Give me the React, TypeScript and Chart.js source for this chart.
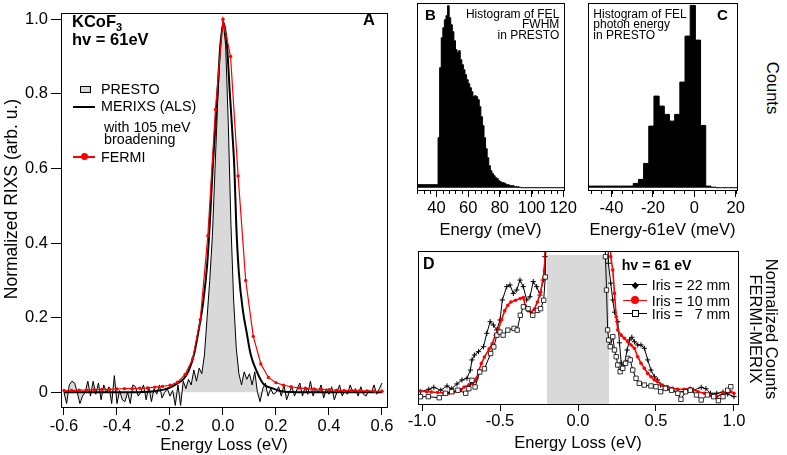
import React, { useEffect, useRef } from "react";
import { Chart, registerables } from "chart.js";

Chart.register(...registerables);

const FONT = '"Liberation Sans", Arial, Helvetica, sans-serif';
const RED = "#ff0000";
const GREY = "#d9d9d9";

// ---------------- Panel A : RIXS spectra ----------------
const A_X_TICKS = [-0.6, -0.4, -0.2, 0, 0.2, 0.4, 0.6];
const A_Y_TICKS = [0, 0.2, 0.4, 0.6, 0.8, 1.0];

const PRESTO_X = [
  -0.6, -0.59, -0.58, -0.57, -0.56, -0.55, -0.54, -0.53, -0.52, -0.51, -0.5, -0.49, -0.48, -0.47, -0.46, -0.45, -0.44, -0.43, -0.42, -0.41,
  -0.4, -0.39, -0.38, -0.37, -0.36, -0.35, -0.34, -0.33, -0.32, -0.31, -0.3, -0.29, -0.28, -0.27, -0.26, -0.25, -0.24, -0.23, -0.22, -0.21,
  -0.2, -0.19, -0.18, -0.17, -0.16, -0.15, -0.14, -0.13, -0.12, -0.11, -0.1, -0.09, -0.08, -0.07, -0.06, -0.05, -0.04, -0.03, -0.02, -0.01,
  0, 0.01, 0.02, 0.03, 0.04, 0.05, 0.06, 0.07, 0.08, 0.09, 0.1, 0.11, 0.12, 0.13, 0.14, 0.15, 0.16, 0.17, 0.18, 0.19,
  0.2, 0.21, 0.22, 0.23, 0.24, 0.25, 0.26, 0.27, 0.28, 0.29, 0.3, 0.31, 0.32, 0.33, 0.34, 0.35, 0.36, 0.37, 0.38, 0.39,
  0.4, 0.41, 0.42, 0.43, 0.44, 0.45, 0.46, 0.47, 0.48, 0.49, 0.5, 0.51, 0.52, 0.53, 0.54, 0.55, 0.56, 0.57, 0.58, 0.59, 0.6,
];
const PRESTO_Y = [
  0.0, -0.03, 0.02, 0.03, 0.025, 0.0, -0.03, -0.01, 0.0, 0.03, -0.01, 0.03, -0.005, 0.025, -0.02, 0.02, 0.0, 0.015, -0.03, 0.045,
  -0.03, 0.005, -0.02, -0.025, 0.0, -0.03, 0.02, 0.015, -0.01, 0.0, 0.02, -0.02, 0.015, -0.025, 0.01, -0.005, 0.02, -0.015, 0.0, 0.01,
  -0.01, 0.005, -0.035, 0.02, -0.035, 0.03, 0.01, 0.035, 0.02, 0.06, 0.03, 0.065, 0.05, 0.1, 0.2, 0.3, 0.42, 0.6, 0.78, 0.93,
  1.0, 0.93, 0.72, 0.45, 0.25, 0.12, 0.05, 0.02, 0.055, 0.035, 0.05, 0.02, 0.055, 0.0, -0.025, 0.01, 0.025, -0.01, 0.01, -0.005,
  0.0, 0.015, -0.01, 0.02, -0.02, 0.0, 0.015, -0.01, 0.01, 0.025, -0.01, 0.015, -0.005, 0.03, -0.01, 0.01, 0.0, 0.02, -0.015, 0.01,
  -0.005, 0.015, -0.02, 0.0, 0.02, -0.01, 0.005, -0.005, 0.02, 0.0, 0.01, -0.01, 0.015, -0.005, -0.01, 0.005, 0.0, 0.02, -0.005, 0.01, 0.025,
];

const MERIXS_X = [
  -0.6, -0.4, -0.3, -0.26, -0.22, -0.2, -0.175, -0.15, -0.13, -0.11, -0.093, -0.075, -0.06, -0.05, -0.039, -0.03, -0.021, -0.01,
  0.003, 0.015, 0.026, 0.035, 0.043, 0.05, 0.06, 0.075, 0.089, 0.105, 0.127, 0.152, 0.19, 0.22, 0.26, 0.3, 0.4, 0.6,
];
const MERIXS_Y = [
  0, 0, 0.001, 0.003, 0.008, 0.013, 0.023, 0.035, 0.057, 0.1, 0.162, 0.24, 0.34, 0.45, 0.6, 0.7, 0.8, 0.93,
  0.99, 0.93, 0.8, 0.7, 0.6, 0.45, 0.32, 0.22, 0.162, 0.1, 0.057, 0.023, 0.01, 0.003, 0.001, 0, 0, 0,
];

const FERMI_X = [
  -0.6, -0.5714, -0.5429, -0.5143, -0.4857, -0.4571, -0.4286, -0.4, -0.3714, -0.3429, -0.3143, -0.2857, -0.2571, -0.2286, -0.2,
  -0.1714, -0.1429, -0.1143, -0.0857, -0.0571, -0.0286, 0, 0.0286, 0.0571, 0.0857, 0.1143, 0.1429, 0.1714, 0.2, 0.2286,
  0.2571, 0.2857, 0.3143, 0.3429, 0.3714, 0.4, 0.4286, 0.4571, 0.4857, 0.5143, 0.5429, 0.5714, 0.6,
];
const FERMI_Y = [
  0.005, 0.005, 0.006, 0.006, 0.007, 0.008, 0.008, 0.009, 0.01, 0.01, 0.011, 0.012, 0.014, 0.016, 0.019,
  0.027, 0.048, 0.09, 0.195, 0.42, 0.758, 1.0, 0.9, 0.58, 0.3, 0.15, 0.076, 0.04, 0.026, 0.019,
  0.015, 0.012, 0.01, 0.009, 0.008, 0.007, 0.006, 0.005, 0.005, 0.004, 0.004, 0.003, 0.003,
];

// ---------------- Panel B : FEL FWHM histogram ----------------
const B_X_TICKS = [40, 60, 80, 100, 120];
const FWHM_BIN_WIDTH = 1;
const FWHM_BIN_EDGES = [
  41, 42, 43, 44, 45, 46, 47, 48, 49, 50, 51, 52, 53, 54, 55, 56, 57, 58, 59, 60, 61, 62, 63, 64, 65, 66, 67,
  68, 69, 70, 71, 72, 73, 74, 75, 76, 77, 78, 79, 80, 81, 82, 83, 84, 85, 86, 87, 88, 89, 90, 91, 92, 93,
];
const FWHM_COUNTS = [
  3, 50, 120, 150, 160, 168, 172, 182, 170, 163, 156, 147, 138, 135, 137, 128, 123, 118, 113, 108, 104, 100, 96, 91, 92, 91, 88,
  81, 71, 62, 50, 39, 30, 22, 17, 14, 12, 10, 9, 7, 6, 5, 5, 4, 3, 3, 2, 2, 2, 1, 1, 1, 0.5,
];

// ---------------- Panel C : FEL photon energy histogram ----------------
const C_X_TICKS = [-40, -20, 0, 20];
const PHOTON_BIN_WIDTH = 2.5;
const PHOTON_BIN_EDGES = [-29.5, -27, -24.5, -22, -19.5, -17, -14.5, -12, -9.5, -7, -4.5, -2, 0.5, 3, 5.5, 8, 10.5];
const PHOTON_COUNTS = [1.6, 4.3, 8.3, 24.3, 61.6, 91.6, 81.6, 73.3, 66.6, 73.3, 105.6, 151.6, 182.3, 147.6, 62.3, 1.6, 0.5];

// ---------------- Panel D : FERMI - MERIX difference ----------------
const D_X_TICKS = [-1, -0.5, 0, 0.5, 1];
const GREY_BAND = [-0.2, 0.2];
const GREY_TOP = 0.974;

const IRIS22_X = [
  -1.01, -0.957, -0.925, -0.88, -0.84, -0.81, -0.776, -0.744, -0.712, -0.69, -0.68, -0.664, -0.638, -0.606, -0.585, -0.563, -0.542,
  -0.521, -0.5, -0.485, -0.457, -0.436, -0.415, -0.393, -0.372, -0.351, -0.329, -0.308, -0.287, -0.265, -0.244, -0.223, -0.212, -0.2,
  0.19, 0.195, 0.21, 0.223, 0.234, 0.255, 0.266, 0.277, 0.287, 0.298, 0.315, 0.33, 0.345, 0.362, 0.383, 0.404, 0.426, 0.447,
  0.468, 0.49, 0.51, 0.53, 0.56, 0.59, 0.64, 0.68, 0.71, 0.74, 0.79, 0.82, 0.85, 0.89, 0.93, 0.96, 1.0,
];
const IRIS22_Y = [
  0.08, 0.096, 0.109, 0.09, 0.118, 0.1, 0.131, 0.157, 0.168, 0.222, 0.288, 0.32, 0.342, 0.375, 0.462, 0.538, 0.516,
  0.484, 0.549, 0.68, 0.767, 0.778, 0.723, 0.745, 0.81, 0.767, 0.68, 0.701, 0.8, 0.767, 0.712, 0.81, 0.963, 1.3,
  1.3, 0.92, 0.79, 0.68, 0.6, 0.538, 0.4, 0.268, 0.235, 0.26, 0.353, 0.418, 0.436, 0.407, 0.386, 0.386, 0.364, 0.288,
  0.222, 0.178, 0.157, 0.124, 0.102, 0.092, 0.08, 0.08, 0.09, 0.09, 0.109, 0.1, 0.07, 0.07, 0.078, 0.065, 0.048,
];

const IRIS10_X = [
  -1.01, -0.97, -0.94, -0.9, -0.86, -0.83, -0.8, -0.77, -0.75, -0.73, -0.7, -0.68, -0.66, -0.65, -0.635, -0.62, -0.6,
  -0.57, -0.55, -0.53, -0.51, -0.49, -0.47, -0.45, -0.43, -0.4, -0.37, -0.35, -0.34, -0.32, -0.3, -0.28, -0.26, -0.24, -0.215, -0.2,
  0.2, 0.21, 0.223, 0.234, 0.245, 0.255, 0.277, 0.298, 0.319, 0.34, 0.362, 0.383, 0.404, 0.426, 0.447, 0.468, 0.49, 0.51,
  0.54, 0.575, 0.606, 0.64, 0.68, 0.72, 0.77, 0.81, 0.85, 0.89, 0.93, 0.98, 1.0,
];
const IRIS10_Y = [
  0.085, 0.08, 0.078, 0.075, 0.072, 0.07, 0.075, 0.085, 0.095, 0.111, 0.125, 0.133, 0.15, 0.168, 0.22, 0.264, 0.307,
  0.36, 0.393, 0.45, 0.49, 0.55, 0.61, 0.645, 0.667, 0.678, 0.69, 0.695, 0.645, 0.61, 0.6, 0.62, 0.667, 0.73, 0.87, 1.3,
  1.3, 0.963, 0.876, 0.723, 0.57, 0.484, 0.45, 0.429, 0.407, 0.386, 0.364, 0.309, 0.266, 0.233, 0.2, 0.178, 0.157, 0.146,
  0.124, 0.113, 0.102, 0.096, 0.096, 0.102, 0.08, 0.07, 0.059, 0.048, 0.07, 0.08, 0.07,
];

const IRIS7_X = [
  -1.01, -0.96, -0.89, -0.85, -0.81, -0.77, -0.72, -0.7, -0.68, -0.66, -0.63, -0.6, -0.56, -0.54, -0.52, -0.5, -0.48,
  -0.45, -0.41, -0.39, -0.37, -0.35, -0.32, -0.29, -0.26, -0.24, -0.22, -0.21, -0.2,
  0.17, 0.176, 0.183, 0.19, 0.197, 0.207, 0.223, 0.234, 0.245, 0.255, 0.27, 0.287, 0.305, 0.32, 0.335, 0.351, 0.372, 0.393,
  0.425, 0.468, 0.5, 0.53, 0.56, 0.6, 0.64, 0.66, 0.69, 0.72, 0.76, 0.79, 0.83, 0.87, 0.9, 0.93, 0.96, 0.98,
];
const IRIS7_Y = [
  0.048, 0.048, 0.041, 0.07, 0.08, 0.09, 0.07, 0.1, 0.155, 0.111, 0.209, 0.23, 0.33, 0.373, 0.45, 0.47, 0.45,
  0.483, 0.494, 0.483, 0.58, 0.635, 0.623, 0.58, 0.612, 0.623, 0.678, 0.83, 1.3,
  1.3, 0.963, 0.745, 0.484, 0.418, 0.375, 0.44, 0.353, 0.309, 0.255, 0.211, 0.233, 0.266, 0.298, 0.288, 0.222, 0.168, 0.135,
  0.124, 0.118, 0.113, 0.08, 0.102, 0.09, 0.07, 0.031, 0.08, 0.09, 0.059, 0.026, 0.059, 0.048, 0.022, 0.048, 0.09, 0.113,
];

// ---------------- helpers ----------------
const pts = (xs: number[], ys: number[]) => xs.map((x, i) => ({ x, y: ys[i] }));

const histPts = (edges: number[], counts: number[], width: number, lo: number, hi: number) => {
  const p: { x: number; y: number }[] = [{ x: lo, y: 0 }];
  edges.forEach((e, i) => p.push({ x: e, y: counts[i] }));
  p.push({ x: edges[edges.length - 1] + width, y: 0 });
  p.push({ x: hi, y: 0 });
  return p;
};

const framePlugin = {
  id: "frame",
  afterDraw(chart: any) {
    const { ctx, chartArea: a } = chart;
    const l = Math.round(a.left), t = Math.round(a.top), r = Math.round(a.right), b = Math.round(a.bottom);
    ctx.save();
    ctx.strokeStyle = "#000";
    ctx.lineWidth = 1;
    ctx.strokeRect(l + 0.5, t + 0.5, r - l, b - t);
    ctx.restore();
  },
};

const minorTicksPlugin = {
  id: "minorTicks",
  afterDraw(chart: any, _args: any, opts: any) {
    const vals: number[] = opts && opts.values;
    if (!vals || !vals.length) return;
    const s = chart.scales.x;
    const ctx = chart.ctx;
    const b = Math.round(chart.chartArea.bottom);
    ctx.save();
    ctx.strokeStyle = "#000";
    ctx.lineWidth = 1;
    ctx.beginPath();
    for (const v of vals) {
      const px = Math.round(s.getPixelForValue(v)) + 0.5;
      ctx.moveTo(px, b);
      ctx.lineTo(px, b + opts.length);
    }
    ctx.stroke();
    ctx.restore();
  },
};

const common = (padding: any, minor?: any) => ({
  responsive: false,
  animation: false,
  events: [],
  layout: { padding },
  plugins: {
    legend: { display: false },
    tooltip: { enabled: false },
    minorTicks: minor || { values: [] },
  },
});

const xAxis = (o: any) => ({
  type: "linear",
  position: "bottom",
  min: o.min,
  max: o.max,
  afterBuildTicks: (s: any) => {
    s.ticks = o.ticks.map((v: number) => ({ value: v }));
  },
  afterFit: (s: any) => {
    s.height = o.height;
  },
  grid: { drawOnChartArea: false, drawTicks: true, tickLength: o.tickLength, color: "#000", tickColor: "#000", lineWidth: 1 },
  border: { display: false },
  ticks: {
    callback: o.fmt,
    padding: o.labelPad,
    color: "#000",
    font: { family: FONT, size: 16.5 },
    maxRotation: 0,
    minRotation: 0,
    autoSkip: false,
  },
  title: {
    display: true,
    text: o.title,
    color: "#000",
    font: { family: FONT, size: 16.5 },
    padding: { top: 0, bottom: o.titlePad },
  },
});

const range = (a: number, b: number, step: number) => {
  const out: number[] = [];
  for (let v = a; v <= b + 1e-9; v += step) out.push(Math.round(v * 1000) / 1000);
  return out;
};

// ---------------- configs ----------------
const cfgA: any = {
  type: "line",
  data: {
    datasets: [
      {
        data: pts(FERMI_X, FERMI_Y),
        borderColor: RED,
        borderWidth: 1.2,
        pointRadius: 1.7,
        pointBackgroundColor: RED,
        pointBorderWidth: 0,
        fill: false,
      },
      {
        data: pts(MERIXS_X, MERIXS_Y),
        borderColor: "#000",
        borderWidth: 2,
        pointRadius: 0,
        cubicInterpolationMode: "monotone",
        fill: false,
      },
      {
        data: pts(PRESTO_X, PRESTO_Y),
        borderColor: "#000",
        borderWidth: 1,
        pointRadius: 0,
        fill: "origin",
        backgroundColor: GREY,
      },
    ],
  },
  options: {
    ...common({ left: 0, right: 13, top: 3, bottom: 0 }),
    scales: {
      x: xAxis({
        min: -0.6113,
        max: 0.6189,
        ticks: A_X_TICKS,
        fmt: (v: number) => v.toFixed(1),
        tickLength: 8,
        labelPad: 2,
        title: "Energy Loss (eV)",
        titlePad: 0,
        height: 48,
      }),
      y: {
        type: "linear",
        min: -0.0392,
        max: 1.017,
        afterBuildTicks: (s: any) => {
          s.ticks = A_Y_TICKS.map((v) => ({ value: v }));
        },
        afterFit: (s: any) => {
          s.width = 61;
        },
        grid: { drawOnChartArea: false, drawTicks: true, tickLength: 10, color: "#000", tickColor: "#000", lineWidth: 1 },
        border: { display: false },
        ticks: {
          callback: (v: number) => (v === 0 ? "0" : v.toFixed(1)),
          padding: 3,
          color: "#000",
          font: { family: FONT, size: 16.5 },
        },
        title: { display: false },
      },
    },
  },
  plugins: [framePlugin],
};

const histConfig = (edges: number[], counts: number[], width: number, min: number, max: number, ticks: number[], title: string, padding: any, minor: any): any => ({
  type: "line",
  data: {
    datasets: [
      {
        data: histPts(edges, counts, width, min, max),
        stepped: "after",
        borderColor: "#000",
        borderWidth: 1,
        pointRadius: 0,
        fill: "origin",
        backgroundColor: "#000",
      },
    ],
  },
  options: {
    ...common(padding, minor),
    scales: {
      x: xAxis({
        min,
        max,
        ticks,
        fmt: (v: number) => String(v),
        tickLength: 7,
        labelPad: 1.5,
        title,
        titlePad: 0,
        height: 50,
      }),
      y: { type: "linear", display: false, min: -2.3, max: 184.7 },
    },
  },
  plugins: [framePlugin, minorTicksPlugin],
});

const cfgB = histConfig(
  FWHM_BIN_EDGES, FWHM_COUNTS, FWHM_BIN_WIDTH, 27.7, 120.5, B_X_TICKS, "Energy (meV)",
  { left: 17, right: 16, top: 3, bottom: 0 },
  { values: range(28, 120, 4), length: 4 }
);
const cfgC = histConfig(
  PHOTON_BIN_EDGES, PHOTON_COUNTS, PHOTON_BIN_WIDTH, -51.35, 20.6, C_X_TICKS, "Energy-61eV (meV)",
  { left: 8, right: 23, top: 3, bottom: 0 },
  { values: range(-50, 20, 5), length: 4 }
);

const cfgD: any = {
  type: "line",
  data: {
    datasets: [
      {
        data: pts(IRIS7_X, IRIS7_Y),
        borderColor: "#000",
        borderWidth: 1,
        pointStyle: "rect",
        pointRadius: 3.1,
        pointBackgroundColor: "#fff",
        pointBorderColor: "#000",
        pointBorderWidth: 0.8,
        fill: false,
      },
      {
        data: pts(IRIS10_X, IRIS10_Y),
        borderColor: RED,
        borderWidth: 1.6,
        pointRadius: 1.8,
        pointBackgroundColor: RED,
        pointBorderWidth: 0,
        fill: false,
      },
      {
        data: pts(IRIS22_X, IRIS22_Y),
        borderColor: "#000",
        borderWidth: 1,
        pointStyle: "cross",
        pointRadius: 2.6,
        pointBorderColor: "#000",
        pointBorderWidth: 1,
        fill: false,
      },
      {
        data: [
          { x: GREY_BAND[0], y: GREY_TOP },
          { x: GREY_BAND[1], y: GREY_TOP },
        ],
        borderColor: "rgba(0,0,0,0)",
        borderWidth: 0,
        pointRadius: 0,
        fill: "origin",
        backgroundColor: GREY,
      },
    ],
  },
  options: {
    ...common({ left: 18, right: 22, top: 11, bottom: 0 }),
    scales: {
      x: xAxis({
        min: -1.026,
        max: 1.026,
        ticks: D_X_TICKS,
        fmt: (v: number) => v.toFixed(1),
        tickLength: 7,
        labelPad: 0.8,
        title: "Energy Loss (eV)",
        titlePad: 2,
        height: 51,
      }),
      y: { type: "linear", display: false, min: 0, max: 1 },
    },
  },
  plugins: [framePlugin],
};

// ---------------- overlay text helpers ----------------
const Txt = (p: any) => (
  <div
    style={{
      position: "absolute",
      left: p.x,
      top: p.y,
      fontSize: p.size,
      fontWeight: p.bold ? "bold" : "normal",
      lineHeight: (p.lh ?? 20) + "px",
      whiteSpace: "pre",
      color: "#000",
      ...(p.style || {}),
    }}
  >
    {p.children}
  </div>
);

const Box = (p: any) => <div style={{ position: "absolute", boxSizing: "border-box", ...p.style }} />;

export default function App() {
  const aRef = useRef<HTMLCanvasElement>(null);
  const bRef = useRef<HTMLCanvasElement>(null);
  const cRef = useRef<HTMLCanvasElement>(null);
  const dRef = useRef<HTMLCanvasElement>(null);

  useEffect(() => {
    const charts = [
      new Chart(aRef.current as HTMLCanvasElement, cfgA),
      new Chart(bRef.current as HTMLCanvasElement, cfgB),
      new Chart(cRef.current as HTMLCanvasElement, cfgC),
      new Chart(dRef.current as HTMLCanvasElement, cfgD),
    ];
    return () => charts.forEach((c) => c.destroy());
  }, []);

  const cv = (left: number, top: number, w: number, h: number) => ({
    position: "absolute" as const,
    left,
    top,
    width: w,
    height: h,
  });

  return (
    <div
      style={{
        position: "absolute",
        left: 0,
        top: 0,
        width: 787,
        height: 455,
        overflow: "hidden",
        background: "#fff",
        fontFamily: FONT,
        color: "#000",
      }}
    >
      <canvas ref={aRef} width={400} height={455} style={cv(0, 0, 400, 455)} />
      <canvas ref={bRef} width={180} height={240} style={cv(400, 0, 180, 240)} />
      <canvas ref={cRef} width={180} height={240} style={cv(580, 0, 180, 240)} />
      <canvas ref={dRef} width={360} height={215} style={cv(400, 240, 360, 215)} />

      {/* Panel A y-axis title */}
      <div
        style={{
          position: "absolute",
          left: 10.8 - 140,
          top: 199 - 10,
          width: 280,
          height: 20,
          lineHeight: "20px",
          textAlign: "center",
          fontSize: 17.5,
          transform: "rotate(-90deg)",
          whiteSpace: "pre",
        }}
      >
        Normalized RIXS (arb. u.)
      </div>

      {/* Panel A annotations */}
      <Txt x={72} y={10.8} size={16.5} bold>
        KCoF<span style={{ fontSize: 11, position: "relative", top: 4 }}>3</span>
      </Txt>
      <Txt x={72} y={29.2} size={16.5} bold>hv = 61eV</Txt>
      <Txt x={363} y={8.7} size={16.5} bold>A</Txt>

      <Box style={{ left: 80, top: 86, width: 10.5, height: 7, background: GREY, border: "1px solid #000" }} />
      <Txt x={101} y={78.9} size={14.3}>PRESTO</Txt>
      <Box style={{ left: 73, top: 106, width: 22, height: 2, background: "#000" }} />
      <Txt x={101} y={96.3} size={14.3}>MERIXS (ALS)</Txt>
      <Txt x={104} y={116.6} size={14.3}>with 105 meV</Txt>
      <Txt x={104} y={128.6} size={14.3}>broadening</Txt>
      <Box style={{ left: 73, top: 156, width: 22, height: 1.5, background: RED }} />
      <Box style={{ left: 80.5, top: 153.2, width: 7, height: 7, background: RED, borderRadius: "50%" }} />
      <Txt x={101} y={147} size={14.3}>FERMI</Txt>

      {/* Panel B annotations */}
      <Txt x={425} y={5.3} size={15} bold>B</Txt>
      <Txt x={0} y={9.05} size={12} lh={10.3} style={{ left: "auto", right: 787 - 559.3, textAlign: "right" }}>
        {"Histogram of FEL\nFWHM\nin PRESTO"}
      </Txt>

      {/* Panel C annotations */}
      <Txt x={717} y={5.3} size={15} bold>C</Txt>
      <Txt x={593.3} y={9.05} size={12} lh={10.3}>
        {"Histogram of FEL\nphoton energy\nin PRESTO"}
      </Txt>

      {/* Counts label */}
      <div
        style={{
          position: "absolute",
          left: 773 - 60,
          top: 88 - 10,
          width: 120,
          height: 20,
          lineHeight: "20px",
          textAlign: "center",
          fontSize: 16.5,
          transform: "rotate(90deg)",
          whiteSpace: "pre",
        }}
      >
        Counts
      </div>

      {/* Panel D annotations */}
      <Txt x={423} y={254} size={16} bold>D</Txt>
      <Txt x={621.7} y={255} size={14.2} bold>hv = 61 eV</Txt>

      <Box style={{ left: 623, top: 284.2, width: 24, height: 1, background: "#000" }} />
      <Box style={{ left: 632.8, top: 282.5, width: 4.5, height: 4.5, background: "#000", transform: "rotate(45deg)" }} />
      <Txt x={651.7} y={274.7} size={14.2}>Iris = 22 mm</Txt>

      <Box style={{ left: 623, top: 299.5, width: 24, height: 1.6, background: RED }} />
      <Box style={{ left: 631, top: 296.2, width: 8, height: 8, background: RED, borderRadius: "50%" }} />
      <Txt x={651.7} y={290.5} size={14.2}>Iris = 10 mm</Txt>

      <Box style={{ left: 623, top: 313, width: 24, height: 1, background: "#000" }} />
      <Box style={{ left: 631.5, top: 310, width: 7, height: 7, background: "#fff", border: "1px solid #000" }} />
      <Txt x={651.7} y={303.8} size={14.2}>Iris =   7 mm</Txt>

      {/* Panel D right label */}
      <div
        style={{
          position: "absolute",
          left: 764 - 100,
          top: 329 - 16,
          width: 200,
          height: 32,
          lineHeight: "16px",
          textAlign: "center",
          fontSize: 16.5,
          transform: "rotate(90deg)",
          whiteSpace: "pre",
        }}
      >
        {"Normalized Counts\nFERMI-MERIX"}
      </div>
    </div>
  );
}
